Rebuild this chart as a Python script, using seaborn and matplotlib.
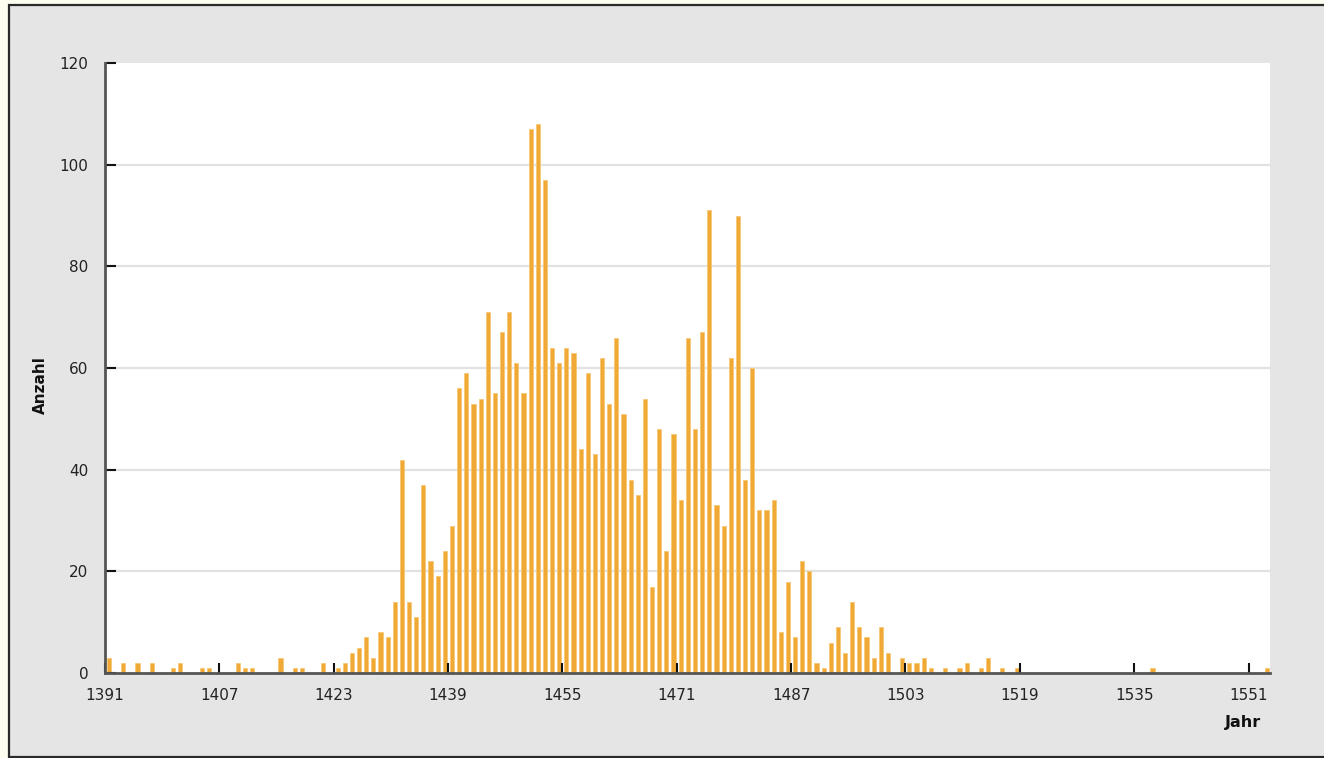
import pandas as pd
import matplotlib.pyplot as plt
import matplotlib.patches as mpatches
import seaborn as sns

# Anzahl pro Jahr, 1391..1553 (je Zeile 10 Jahre)
start_jahr = 1391
anzahl = [
    3, 0, 2, 0, 2, 0, 2, 0, 0, 1,          # 1391
    2, 0, 0, 1, 1, 0, 0, 0, 2, 1,          # 1401
    1, 0, 0, 0, 3, 0, 1, 1, 0, 0,          # 1411
    2, 0, 1, 2, 4, 5, 7, 3, 8, 7,          # 1421
    14, 42, 14, 11, 37, 22, 19, 24, 29, 56,  # 1431
    59, 53, 54, 71, 55, 67, 71, 61, 55, 107,  # 1441
    108, 97, 64, 61, 64, 63, 44, 59, 43, 62,  # 1451
    53, 66, 51, 38, 35, 54, 17, 48, 24, 47,  # 1461
    34, 66, 48, 67, 91, 33, 29, 62, 90, 38,  # 1471
    60, 32, 32, 34, 8, 18, 7, 22, 20, 2,    # 1481
    1, 6, 9, 4, 14, 9, 7, 3, 9, 4,          # 1491
    0, 3, 2, 2, 3, 1, 0, 1, 0, 1,          # 1501
    2, 0, 1, 3, 0, 1, 0, 1, 0, 0,          # 1511
    0, 0, 0, 0, 0, 0, 0, 0, 0, 0,          # 1521
    0, 0, 0, 0, 0, 0, 1, 0, 0, 0,          # 1531
    0, 0, 0, 0, 0, 0, 0, 0, 0, 0,          # 1541
    0, 0, 1,                               # 1551
]
jahre = [start_jahr + i for i in range(len(anzahl))]
x_ticks = [1391, 1407, 1423, 1439, 1455, 1471, 1487, 1503, 1519, 1535, 1551]
y_ticks = [0, 20, 40, 60, 80, 100, 120]

df = pd.DataFrame({'Jahr': jahre, 'Anzahl': anzahl})
df = df[df['Anzahl'] > 0]

sns.set_style('white')
plt.rcParams['font.family'] = ['DejaVu Sans']

W, H = 1324, 758
fig = plt.figure(figsize=(W / 100, H / 100), dpi=100)
fig.patch.set_facecolor('#fdfdf0')
# grauer Rahmen
fig.patches.append(mpatches.Rectangle((9 / W, 1 / H), 1.02, 752 / H, transform=fig.transFigure,
                                      facecolor='#e5e5e5', edgecolor='#2a2a2a', lw=1.6, zorder=-10))

ax = fig.add_axes([105 / W, (H - 673) / H, (1270 - 105) / W, (673 - 63) / H])
ax.set_facecolor('white')
ax.set_axisbelow(False)
off = 0.55  # Balken sitzen rechts vom Jahres-Tick
sns.barplot(x=df['Jahr'] + off, y=df['Anzahl'], native_scale=True, width=0.58,
            color='#f0a935', saturation=1, linewidth=0.6, edgecolor='#f6c877',
            errorbar=None, ax=ax, zorder=2)

ax.set_xlim(start_jahr, start_jahr + len(anzahl))
ax.set_ylim(0, 120)
ax.set_xticks(x_ticks)
ax.set_xticklabels([str(t) for t in x_ticks])
ax.set_yticks(y_ticks)
ax.set_yticklabels([str(t) for t in y_ticks])
for y in y_ticks[1:-1]:
    ax.axhline(y, color='#e2e2e2', lw=1.6, zorder=0.5)

ax.tick_params(axis='both', direction='in', color='#111', width=1.5, labelsize=11,
               labelcolor='#222', bottom=True, left=True)
ax.tick_params(axis='x', length=7, pad=11)
ax.tick_params(axis='y', length=8, pad=12)
for s in ['top', 'right']:
    ax.spines[s].set_visible(False)
for s in ['left', 'bottom']:
    ax.spines[s].set_color('#555')
    ax.spines[s].set_linewidth(2)
    ax.spines[s].set_zorder(5)

ax.set_xlabel('')
ax.set_ylabel('')
fig.text(40 / W, 1 - 385 / H, 'Anzahl', rotation=90, ha='center', va='center',
         fontsize=11, fontweight='bold', color='#111')
fig.text(1243 / W, 1 - 722 / H, 'Jahr', ha='center', va='center',
         fontsize=11.5, fontweight='bold', color='#111')

fig.savefig('out.png', dpi=100, facecolor=fig.get_facecolor())
